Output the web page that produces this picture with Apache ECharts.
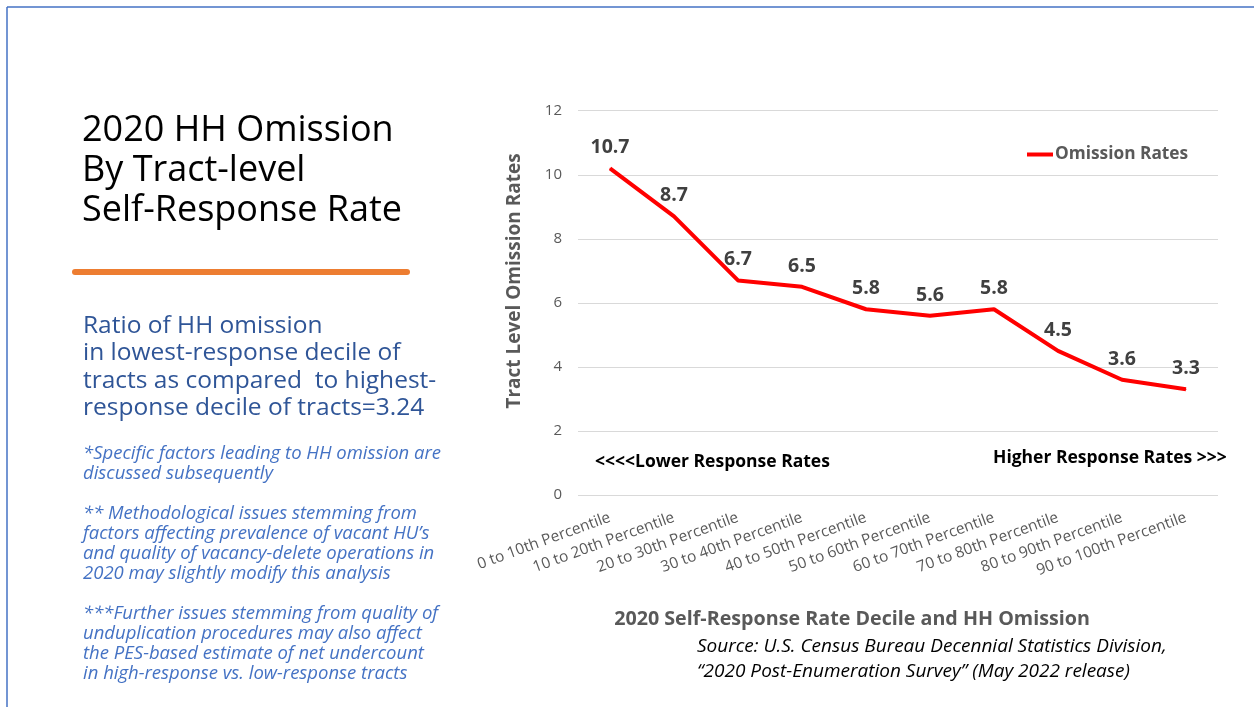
<!DOCTYPE html>
<html>
<head>
<meta charset="utf-8">
<script src="https://cdn.jsdelivr.net/npm/echarts@6/dist/echarts.min.js"></script>
<style>
html,body{margin:0;padding:0;background:#fff;}
#main{width:1254px;height:707px;}
</style>
</head>
<body>
<div id="main"></div>
<script>
var categories = ['0 to 10th Percentile','10 to 20th Percentile','20 to 30th Percentile','30 to 40th Percentile','40 to 50th Percentile','50 to 60th Percentile','60 to 70th Percentile','70 to 80th Percentile','80 to 90th Percentile','90 to 100th Percentile'];
var omissionRates = [10.2, 8.7, 6.7, 6.5, 5.8, 5.6, 5.8, 4.5, 3.6, 3.3];
var pointLabels = ['10.7','8.7','6.7','6.5','5.8','5.6','5.8','4.5','3.6','3.3'];
var yTicks = [0, 2, 4, 6, 8, 10, 12];

var F = '"Open Sans", "Noto Sans", sans-serif';
var chart = echarts.init(document.getElementById('main'));

var titleLines = ['2020 HH Omission','By Tract-level','Self-Response Rate'];
var ratioLines = ['Ratio of HH omission','in lowest-response decile of','tracts as compared  to highest-','response decile of tracts=3.24'];
var noteLines = [
  ['*Specific factors leading to HH omission are','discussed subsequently'],
  ['** Methodological issues stemming from','factors affecting prevalence of vacant HU\u2019s','and quality of vacancy-delete operations in','2020 may slightly modify this analysis'],
  ['***Further issues stemming from quality of','unduplication procedures may also affect','the PES-based estimate of net undercount','in high-response vs. low-response tracts']
];
var graphics = [];
graphics.push({type:'line', shape:{x1:7,y1:7,x2:1254,y2:7}, style:{stroke:'#4472C4',lineWidth:1.5}});
graphics.push({type:'line', shape:{x1:7,y1:7,x2:7,y2:707}, style:{stroke:'#4472C4',lineWidth:1.5}});
titleLines.forEach(function(t,i){
  graphics.push({type:'text', style:{text:t, x:82, y:131+i*40, font:'36px '+F, fill:'#000', textVerticalAlign:'middle'}});
});
graphics.push({type:'line', shape:{x1:75,y1:272,x2:407,y2:272}, style:{stroke:'#ED7D31',lineWidth:6,lineCap:'round'}});
ratioLines.forEach(function(t,i){
  graphics.push({type:'text', style:{text:t, x:83, y:326+i*27.5, font:'24.5px '+F, fill:'#2F5597', textVerticalAlign:'middle'}});
});
var noteStarts = [454, 514, 614];
noteLines.forEach(function(block,b){
  block.forEach(function(t,i){
    graphics.push({type:'text', style:{text:t, x:83, y:noteStarts[b]+i*20, font:'italic 18.5px '+F, fill:'#4472C4', textVerticalAlign:'middle'}});
  });
});
graphics.push({type:'text', rotation:Math.PI/2, x:515, y:281, style:{text:'Tract Level Omission Rates', x:0, y:0, font:'bold 19px '+F, fill:'#595959', textAlign:'center', textVerticalAlign:'middle'}});
graphics.push({type:'text', style:{text:'2020 Self-Response Rate Decile and HH Omission', x:852, y:619, font:'bold 19.7px '+F, fill:'#595959', textAlign:'center', textVerticalAlign:'middle'}});
graphics.push({type:'text', style:{text:'Source: U.S. Census Bureau Decennial Statistics Division,', x:697, y:647, font:'italic 19px '+F, fill:'#000', textVerticalAlign:'middle'}});
graphics.push({type:'text', style:{text:'\u201C2020 Post-Enumeration Survey\u201D (May 2022 release)', x:697, y:672, font:'italic 19px '+F, fill:'#000', textVerticalAlign:'middle'}});
graphics.push({type:'text', style:{text:'<<<<Lower Response Rates', x:595, y:462, font:'bold 17.5px '+F, fill:'#000', textVerticalAlign:'middle'}});
graphics.push({type:'text', style:{text:'Higher Response Rates >>>', x:993, y:458, font:'bold 17.5px '+F, fill:'#000', textVerticalAlign:'middle'}});

chart.setOption({
  animation:false,
  grid:{left:578, top:110.7, width:640, height:384.3, containLabel:false},
  legend:{
    show:true, left:1022, top:141, itemWidth:26, itemHeight:4, itemGap:2,
    icon:'rect',
    textStyle:{fontFamily:F, fontWeight:'bold', fontSize:17.3, color:'#595959', padding:[0,0,0,-3]},
    data:[{name:'Omission Rates'}]
  },
  xAxis:{
    type:'category', data:categories, boundaryGap:true,
    axisLine:{show:false}, axisTick:{show:false},
    axisLabel:{rotate:20, fontFamily:F, fontSize:15.5, color:'#595959', margin:22, interval:0}
  },
  yAxis:{
    type:'value', min:yTicks[0], max:yTicks[yTicks.length-1], interval:2,
    axisLine:{show:false}, axisTick:{show:false},
    axisLabel:{fontFamily:F, fontSize:15, color:'#595959', margin:16},
    splitLine:{lineStyle:{color:'#d9d9d9', width:1}}
  },
  series:[{
    name:'Omission Rates', type:'line', data:omissionRates,
    symbol:'circle', symbolSize:1, showSymbol:true,
    lineStyle:{color:'#FF0000', width:4}, itemStyle:{color:'#FF0000'},
    label:{show:true, position:'top', distance:10, fontFamily:F, fontWeight:'bold', fontSize:19.5, color:'#404040',
      formatter:function(p){return pointLabels[p.dataIndex];}},
    labelLayout:{hideOverlap:false}
  }],
  graphic:graphics
});
</script>
</body>
</html>
